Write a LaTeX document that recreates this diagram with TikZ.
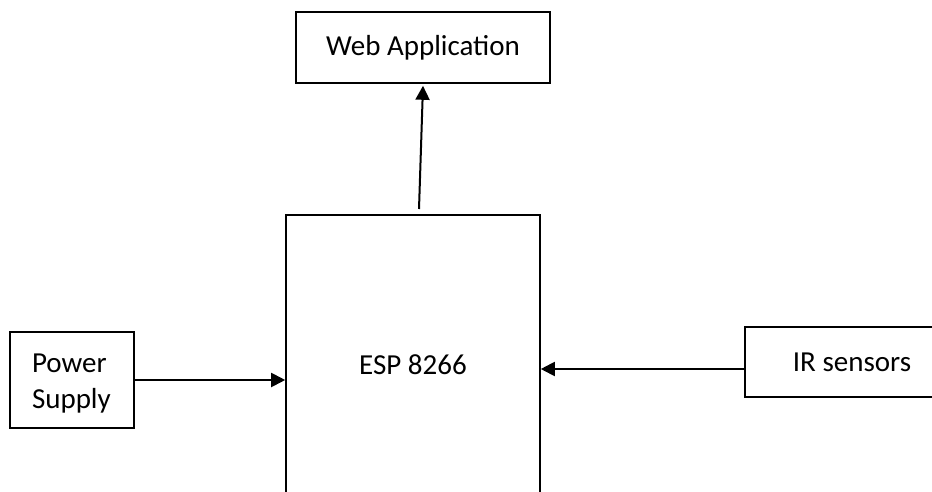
\documentclass[tikz,border=0pt]{standalone}
\usepackage{fontspec}
\setmainfont{Carlito}
\usetikzlibrary{arrows.meta}

\tikzset{
  blk/.style={draw, line width=1.6pt, inner sep=0pt, font=\fontsize{29}{36}\selectfont},
  arr/.style={line width=2pt, -{Triangle[length=14pt,width=14pt]}}
}

\begin{document}
\begin{tikzpicture}[x=1pt,y=-1pt]
    \useasboundingbox (0,0) rectangle (932,492);
    \clip (0,0) rectangle (932,492);
		
		\node[blk, minimum width=254, minimum height=71] (web) at (423,47.5) {Web Application};
		\node[blk, minimum width=254, minimum height=300] (esp) at (413,365) {ESP 8266};
		\node[blk, minimum width=124, minimum height=96, text width=80, text depth=34pt, align=left] (psu) at (72,380) {Power\\Supply};
		\node[blk, minimum width=214, minimum height=70] (ir) at (852,362) {IR sensors};
		
		\coordinate (espout) at (419,209) ;
		\coordinate (irin) at (745,369) ;
		
		\draw[arr] (espout) -- ([yshift=-2]web.south);
		\draw[arr] (psu.east) -- (esp.west |- psu.east);
		\draw[arr] (irin) -- (irin -| esp.east); %IR
\end{tikzpicture}
\end{document}
